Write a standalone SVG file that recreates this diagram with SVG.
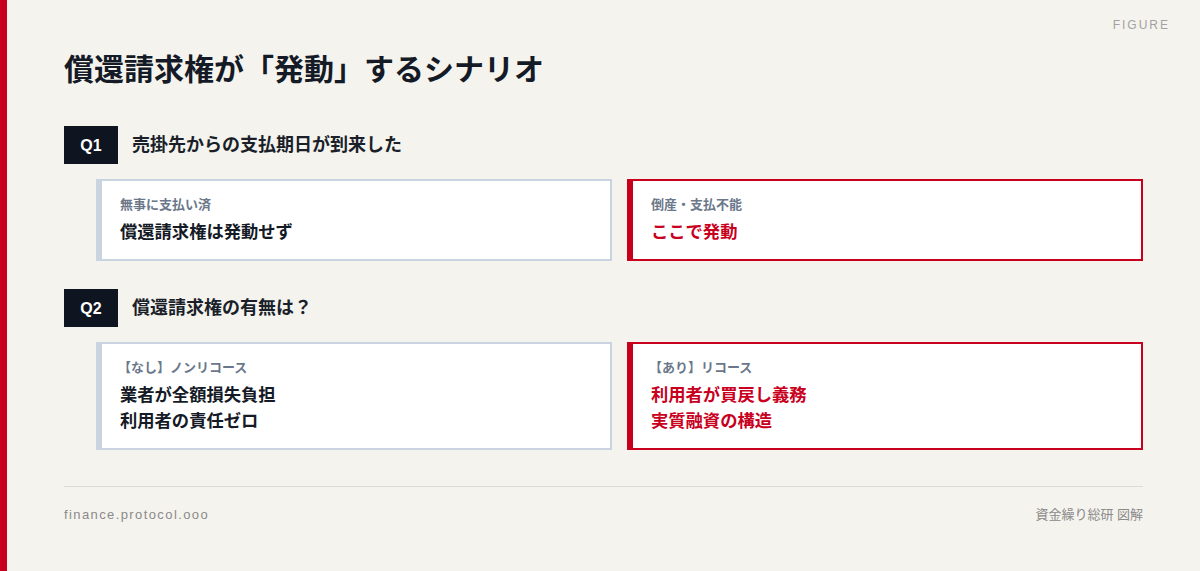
<svg xmlns="http://www.w3.org/2000/svg" width="1200" height="571" viewBox="0 0 1200 571">
<style>
.title{font-family:"Noto Sans CJK JP",sans-serif;font-weight:700;font-size:30px;fill:#141a26}
.qbox{fill:#0f1520}
.qlbl{font-family:"Liberation Sans","Noto Sans",sans-serif;font-weight:700;font-size:16px;fill:#ffffff}
.qtxt{font-family:"Noto Sans CJK JP",sans-serif;font-weight:700;font-size:18px;fill:#1a1f2a}
.card{fill:#ffffff;stroke-width:2}
.neutral .card{stroke:#cad4e0}
.neutral .bar{fill:#cad4e0}
.alert .card{stroke:#c8001e}
.alert .bar{fill:#c8001e}
.lbl{font-family:"Noto Sans CJK JP",sans-serif;font-weight:700;font-size:13px;fill:#6b778a}
.main{font-family:"Noto Sans CJK JP",sans-serif;font-weight:700;font-size:17.3px}
.neutral .main{fill:#141a26}
.alert .main{fill:#c8001e}
.foot{font-family:"Liberation Sans","Noto Sans CJK JP",sans-serif;font-size:13px;fill:#8a8a8a}
</style>
<rect x="0" y="0" width="1200" height="571" fill="#f5f3ee"/>
<rect x="0" y="0" width="7" height="571" fill="#c8001e"/>
<text x="1170" y="29" text-anchor="end" font-family="Liberation Sans, sans-serif" font-size="12" letter-spacing="2" fill="#a2a2a2">FIGURE</text>
<text class="title" x="64" y="80">償還請求権が「発動」するシナリオ</text>

<g id="q1">
<rect class="qbox" x="64" y="126" width="54" height="38"/>
<text class="qlbl" x="91" y="151" text-anchor="middle">Q1</text>
<text class="qtxt" x="132" y="151">売掛先からの支払期日が到来した</text>
</g>

<g id="card-paid" class="neutral">
<rect class="card" x="97" y="180" width="514" height="80"/>
<rect class="bar" x="96" y="179" width="6" height="82"/>
<text class="lbl" x="120" y="209">無事に支払い済</text>
<text class="main" x="120" y="238">償還請求権は発動せず</text>
</g>

<g id="card-default" class="alert">
<rect class="card" x="628" y="180" width="514" height="80"/>
<rect class="bar" x="627" y="179" width="6" height="82"/>
<text class="lbl" x="651" y="209">倒産・支払不能</text>
<text class="main" x="651" y="238">ここで発動</text>
</g>

<g id="q2">
<rect class="qbox" x="64" y="289" width="54" height="38"/>
<text class="qlbl" x="91" y="314" text-anchor="middle">Q2</text>
<text class="qtxt" x="132" y="314">償還請求権の有無は？</text>
</g>

<g id="card-nonrecourse" class="neutral">
<rect class="card" x="97" y="343" width="514" height="106"/>
<rect class="bar" x="96" y="342" width="6" height="108"/>
<text class="lbl" x="118" y="372">【なし】ノンリコース</text>
<text class="main" x="120" y="401">業者が全額損失負担</text>
<text class="main" x="120" y="427">利用者の責任ゼロ</text>
</g>

<g id="card-recourse" class="alert">
<rect class="card" x="628" y="343" width="514" height="106"/>
<rect class="bar" x="627" y="342" width="6" height="108"/>
<text class="lbl" x="649" y="372">【あり】リコース</text>
<text class="main" x="651" y="401">利用者が買戻し義務</text>
<text class="main" x="651" y="427">実質融資の構造</text>
</g>

<g id="connectors"></g>

<line x1="64" y1="486.5" x2="1143" y2="486.5" stroke="#dddbd6" stroke-width="1"/>
<text class="foot" x="64" y="519" letter-spacing="1.4">finance.protocol.ooo</text>
<text class="foot" x="1143" y="519" text-anchor="end" font-size="12.5">資金繰り総研 図解</text>
</svg>
